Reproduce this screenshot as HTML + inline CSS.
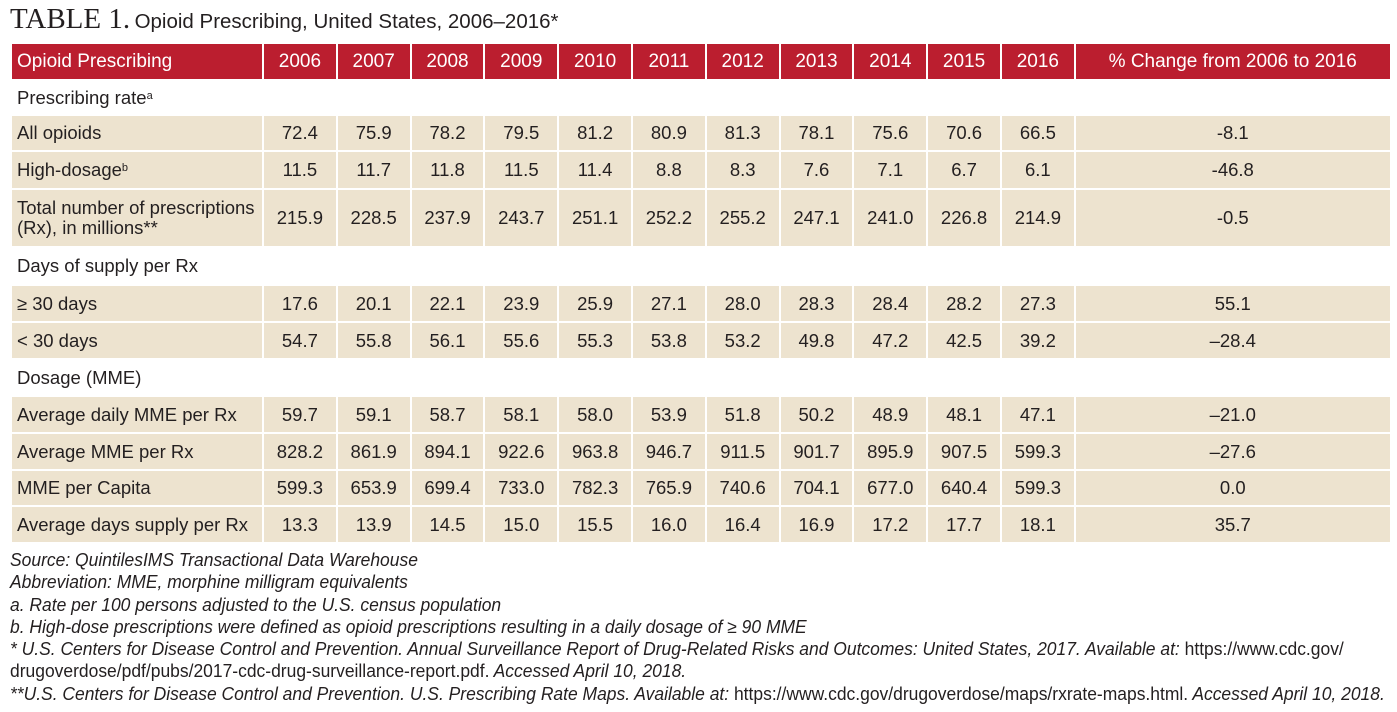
<!DOCTYPE html>
<html><head><meta charset="utf-8"><style>
body{margin:0;width:1397px;height:712px;background:#fff;position:relative;overflow:hidden;font-family:"Liberation Sans",sans-serif;color:#231f20}
.title{position:absolute;left:10px;top:3px;white-space:nowrap}
.title .t{font-family:"Liberation Serif",serif;font-size:29px;letter-spacing:0px}
.title .s{font-size:20.5px}
table{position:absolute;left:10px;top:42px;border-collapse:collapse;table-layout:fixed;width:1380px;font-size:18.5px}
td{border:2px solid #fff;padding:0;text-align:center;background:#ede3cf;white-space:nowrap}
td:first-child{text-align:left;padding-left:5px}
tr.h td{background:#bb1e2f;color:#fff;font-size:19px}
tr.sec td{background:#fff;border-color:#fff}
sup{font-size:11px;vertical-align:5px}
td.w{white-space:normal;line-height:20px}
.foot{position:absolute;left:10px;top:549px;font-style:italic;font-size:18px;line-height:22.3px;white-space:nowrap;transform:scaleX(0.97);transform-origin:0 0}
.n{font-style:normal}
</style></head><body>
<div class="title"><span class="t">TABLE 1.</span> <span class="s">Opioid Prescribing, United States, 2006–2016*</span></div>
<table>
<colgroup><col style="width:252px"><col span="11" style="width:73.8px"><col style="width:316px"></colgroup>
<tr class="h" style="height:37px"><td>Opioid Prescribing</td><td>2006</td><td>2007</td><td>2008</td><td>2009</td><td>2010</td><td>2011</td><td>2012</td><td>2013</td><td>2014</td><td>2015</td><td>2016</td><td>% Change from 2006 to 2016</td></tr>
<tr class="sec" style="height:35px"><td colspan="13">Prescribing rate<sup>a</sup></td></tr>
<tr style="height:36px"><td>All opioids</td><td>72.4</td><td>75.9</td><td>78.2</td><td>79.5</td><td>81.2</td><td>80.9</td><td>81.3</td><td>78.1</td><td>75.6</td><td>70.6</td><td>66.5</td><td>-8.1</td></tr>
<tr style="height:38px"><td>High-dosage<sup>b</sup></td><td>11.5</td><td>11.7</td><td>11.8</td><td>11.5</td><td>11.4</td><td>8.8</td><td>8.3</td><td>7.6</td><td>7.1</td><td>6.7</td><td>6.1</td><td>-46.8</td></tr>
<tr style="height:58px"><td class="w">Total number of prescriptions (Rx), in millions**</td><td>215.9</td><td>228.5</td><td>237.9</td><td>243.7</td><td>251.1</td><td>252.2</td><td>255.2</td><td>247.1</td><td>241.0</td><td>226.8</td><td>214.9</td><td>-0.5</td></tr>
<tr class="sec" style="height:38px"><td colspan="13">Days of supply per Rx</td></tr>
<tr style="height:37px"><td>≥ 30 days</td><td>17.6</td><td>20.1</td><td>22.1</td><td>23.9</td><td>25.9</td><td>27.1</td><td>28.0</td><td>28.3</td><td>28.4</td><td>28.2</td><td>27.3</td><td>55.1</td></tr>
<tr style="height:37px"><td>&lt; 30 days</td><td>54.7</td><td>55.8</td><td>56.1</td><td>55.6</td><td>55.3</td><td>53.8</td><td>53.2</td><td>49.8</td><td>47.2</td><td>42.5</td><td>39.2</td><td>–28.4</td></tr>
<tr class="sec" style="height:37px"><td colspan="13">Dosage (MME)</td></tr>
<tr style="height:37px"><td>Average daily MME per Rx</td><td>59.7</td><td>59.1</td><td>58.7</td><td>58.1</td><td>58.0</td><td>53.9</td><td>51.8</td><td>50.2</td><td>48.9</td><td>48.1</td><td>47.1</td><td>–21.0</td></tr>
<tr style="height:37px"><td>Average MME per Rx</td><td>828.2</td><td>861.9</td><td>894.1</td><td>922.6</td><td>963.8</td><td>946.7</td><td>911.5</td><td>901.7</td><td>895.9</td><td>907.5</td><td>599.3</td><td>–27.6</td></tr>
<tr style="height:36px"><td>MME per Capita</td><td>599.3</td><td>653.9</td><td>699.4</td><td>733.0</td><td>782.3</td><td>765.9</td><td>740.6</td><td>704.1</td><td>677.0</td><td>640.4</td><td>599.3</td><td>0.0</td></tr>
<tr style="height:37px"><td>Average days supply per Rx</td><td>13.3</td><td>13.9</td><td>14.5</td><td>15.0</td><td>15.5</td><td>16.0</td><td>16.4</td><td>16.9</td><td>17.2</td><td>17.7</td><td>18.1</td><td>35.7</td></tr>
</table>
<div class="foot">
Source: QuintilesIMS Transactional Data Warehouse<br>
Abbreviation: MME, morphine milligram equivalents<br>
a. Rate per 100 persons adjusted to the U.S. census population<br>
b. High-dose prescriptions were defined as opioid prescriptions resulting in a daily dosage of ≥ 90 MME<br>
* U.S. Centers for Disease Control and Prevention. Annual Surveillance Report of Drug-Related Risks and Outcomes: United States, 2017. Available at: <span class="n">https://www.cdc.gov/</span><br>
<span class="n">drugoverdose/pdf/pubs/2017-cdc-drug-surveillance-report.pdf.</span> Accessed April 10, 2018.<br>
**U.S. Centers for Disease Control and Prevention. U.S. Prescribing Rate Maps. Available at: <span class="n">https://www.cdc.gov/drugoverdose/maps/rxrate-maps.html.</span> Accessed April 10, 2018.
</div>
</body></html>
